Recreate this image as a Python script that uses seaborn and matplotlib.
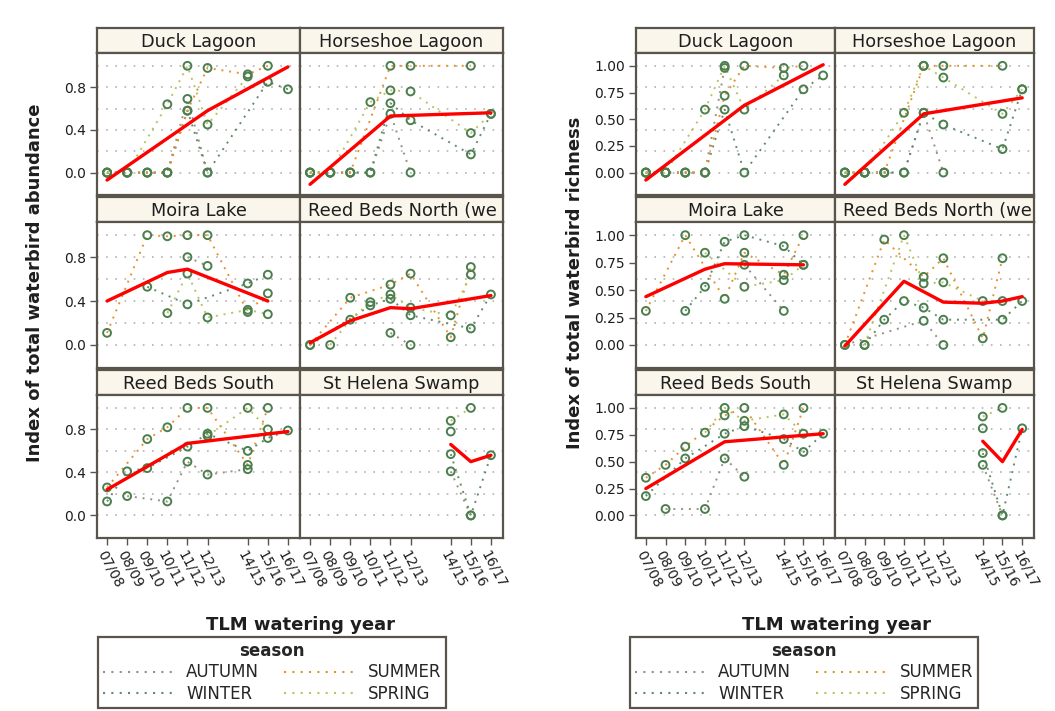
import numpy as np
import pandas as pd
import matplotlib
matplotlib.use("Agg")
import matplotlib.pyplot as plt
from matplotlib.lines import Line2D
import seaborn as sns

nan = np.nan

# ---------------- data ----------------
years = ["07/08", "08/09", "09/10", "10/11", "11/12", "12/13", "13/14", "14/15", "15/16", "16/17"]
tick_years = ["07/08", "08/09", "09/10", "10/11", "11/12", "12/13", "14/15", "15/16", "16/17"]
seasons = ["AUTUMN", "WINTER", "SUMMER", "SPRING"]
sites = ["Duck Lagoon", "Horseshoe Lagoon", "Moira Lake",
         "Reed Beds North (west)", "Reed Beds South", "St Helena Swamp"]
# facet strip labels as printed (long name truncated by the strip)
site_labels = ["Duck Lagoon", "Horseshoe Lagoon", "Moira Lake",
               "Reed Beds North (we", "Reed Beds South", "St Helena Swamp"]

# abundance index per site and season (one value per watering year, nan = no survey)
abund_duck = {"AUTUMN": [0, 0, 0, 0, 0.69, 0.0, nan, nan, nan, nan],
              "WINTER": [0, 0, 0, 0, 0.58, 0.0, nan, nan, 0.85, 0.78],
              "SUMMER": [0, 0, 0, 0, 0.58, 0.98, nan, 0.92, 1.0, nan],
              "SPRING": [0, 0, nan, 0.64, 1.0, 0.45, nan, 0.90, nan, nan]}
abund_horse = {"AUTUMN": [0, 0, 0, 0, 0.55, 0.0, nan, nan, nan, nan],
               "WINTER": [0, 0, 0, 0, 0.65, 0.49, nan, nan, 0.17, 0.55],
               "SUMMER": [0, 0, 0, nan, 1.0, 1.0, nan, nan, 1.0, nan],
               "SPRING": [0, 0, nan, 0.66, 0.77, 0.76, nan, nan, 0.37, 0.55]}
abund_moira = {"AUTUMN": [nan, nan, nan, nan, 0.80, 0.72, nan, nan, nan, nan],
               "WINTER": [nan, nan, 0.53, nan, 0.37, nan, nan, 0.56, 0.64, nan],
               "SUMMER": [0.11, nan, 1.0, 0.99, 1.0, 1.0, nan, 0.30, 0.47, nan],
               "SPRING": [nan, nan, nan, 0.29, 0.65, 0.25, nan, 0.32, 0.28, nan]}
abund_rbn = {"AUTUMN": [nan, nan, nan, nan, 0.11, 0.0, nan, nan, nan, nan],
             "WINTER": [0, nan, nan, 0.36, 0.42, 0.27, nan, nan, 0.15, 0.46],
             "SUMMER": [0, nan, 0.43, nan, 0.55, 0.65, nan, 0.07, 0.71, nan],
             "SPRING": [nan, 0, 0.23, 0.39, 0.46, 0.34, nan, 0.27, 0.64, nan]}
abund_rbs = {"AUTUMN": [nan, 0.18, nan, 0.13, 0.50, 0.38, nan, 0.43, nan, nan],
             "WINTER": [0.13, 0.41, 0.44, nan, 0.64, 0.76, nan, 0.60, 0.72, 0.79],
             "SUMMER": [0.26, nan, 0.71, 0.82, 1.0, 1.0, nan, 0.47, 1.0, nan],
             "SPRING": [nan, nan, nan, nan, nan, 0.74, nan, 1.0, 0.80, nan]}
abund_sth = {"AUTUMN": [nan, nan, nan, nan, nan, nan, nan, 0.41, 0.0, nan],
             "WINTER": [nan, nan, nan, nan, nan, nan, nan, 0.57, 0.0, 0.56],
             "SUMMER": [nan, nan, nan, nan, nan, nan, nan, 0.78, nan, nan],
             "SPRING": [nan, nan, nan, nan, nan, nan, nan, 0.88, 1.0, nan]}

# fitted abundance trend (red line vertices)
abund_fit_duck = [-0.07, nan, nan, nan, nan, 0.58, nan, nan, nan, 0.99]
abund_fit_horse = [-0.11, nan, nan, nan, 0.53, nan, nan, nan, nan, 0.56]
abund_fit_moira = [0.40, nan, nan, 0.66, 0.69, nan, nan, nan, 0.40, nan]
abund_fit_rbn = [0.02, nan, 0.22, nan, 0.34, 0.33, nan, nan, nan, 0.45]
abund_fit_rbs = [0.24, nan, nan, nan, 0.67, nan, nan, nan, nan, 0.78]
abund_fit_sth = [nan, nan, nan, nan, nan, nan, nan, 0.66, 0.50, 0.56]

# richness index per site and season
rich_duck = {"AUTUMN": [0, 0, 0, 0, 0.98, nan, nan, nan, nan, nan],
             "WINTER": [0, 0, 0, 0, 0.59, 0.0, nan, nan, 0.78, 0.91],
             "SUMMER": [0, 0, 0, 0, 0.72, 1.0, nan, 0.98, 1.0, nan],
             "SPRING": [0, 0, nan, 0.59, 1.0, 0.59, nan, 0.91, nan, nan]}
rich_horse = {"AUTUMN": [0, 0, 0, 0, 0.56, 0.0, nan, nan, nan, nan],
              "WINTER": [0, 0, 0, 0, 0.56, 0.45, nan, nan, 0.22, 0.78],
              "SUMMER": [0, 0, 0, nan, 1.0, 1.0, nan, nan, 1.0, nan],
              "SPRING": [0, 0, nan, 0.56, 1.0, 0.89, nan, nan, 0.55, 0.78]}
rich_moira = {"AUTUMN": [nan, nan, nan, nan, nan, 0.73, nan, 0.31, nan, nan],
              "WINTER": [nan, nan, 0.31, 0.53, 0.94, 1.0, nan, 0.90, 0.73, nan],
              "SUMMER": [0.31, nan, 1.0, nan, 0.42, 0.84, nan, 0.64, 1.0, nan],
              "SPRING": [nan, nan, nan, 0.84, nan, 0.53, nan, 0.59, 0.73, nan]}
rich_rbn = {"AUTUMN": [0, nan, nan, nan, 0.22, 0.0, nan, nan, nan, nan],
            "WINTER": [nan, 0, 0.23, 0.40, 0.34, 0.23, nan, nan, 0.23, 0.40],
            "SUMMER": [0, nan, 0.96, nan, 0.62, 0.79, nan, 0.06, 0.79, nan],
            "SPRING": [nan, 0, nan, 1.0, 0.56, 0.57, nan, 0.40, 0.40, nan]}
rich_rbs = {"AUTUMN": [nan, 0.06, nan, 0.06, 0.53, 0.36, nan, nan, nan, nan],
            "WINTER": [0.18, nan, 0.53, nan, 0.76, 0.83, nan, 0.71, 0.59, 0.76],
            "SUMMER": [0.35, 0.47, 0.64, nan, 0.93, 1.0, nan, 0.47, 1.0, nan],
            "SPRING": [nan, nan, nan, 0.77, 1.0, 0.88, nan, 0.94, 0.76, nan]}
rich_sth = {"AUTUMN": [nan, nan, nan, nan, nan, nan, nan, 0.47, 0.0, nan],
            "WINTER": [nan, nan, nan, nan, nan, nan, nan, 0.58, 0.0, 0.81],
            "SUMMER": [nan, nan, nan, nan, nan, nan, nan, 0.81, nan, nan],
            "SPRING": [nan, nan, nan, nan, nan, nan, nan, 0.92, 1.0, nan]}

rich_fit_duck = [-0.07, nan, nan, nan, nan, 0.63, nan, nan, nan, 1.01]
rich_fit_horse = [-0.11, nan, nan, nan, 0.55, nan, nan, nan, nan, 0.70]
rich_fit_moira = [0.44, nan, nan, 0.69, 0.74, nan, nan, nan, 0.73, nan]
rich_fit_rbn = [-0.01, nan, nan, 0.58, nan, 0.39, nan, 0.38, 0.40, 0.44]
rich_fit_rbs = [0.25, nan, nan, nan, 0.685, nan, nan, nan, nan, 0.76]
rich_fit_sth = [nan, nan, nan, nan, nan, nan, nan, 0.69, 0.50, 0.80]

abund_series = [abund_duck, abund_horse, abund_moira, abund_rbn, abund_rbs, abund_sth]
abund_fits = [abund_fit_duck, abund_fit_horse, abund_fit_moira, abund_fit_rbn, abund_fit_rbs, abund_fit_sth]
rich_series = [rich_duck, rich_horse, rich_moira, rich_rbn, rich_rbs, rich_sth]
rich_fits = [rich_fit_duck, rich_fit_horse, rich_fit_moira, rich_fit_rbn, rich_fit_rbs, rich_fit_sth]

# ---------------- tidy tables ----------------
rows, fit_rows = [], []
for measure, series, fits in [("abund", abund_series, abund_fits), ("rich", rich_series, rich_fits)]:
    for site, sdict, fit in zip(sites, series, fits):
        for season in seasons:
            for i, v in enumerate(sdict[season]):
                rows.append((measure, site, season, i, years[i], v))
        for i, v in enumerate(fit):
            fit_rows.append((measure, site, i, v))
df = pd.DataFrame(rows, columns=["measure", "site", "season", "x", "year", "value"]).dropna()
fit_df = pd.DataFrame(fit_rows, columns=["measure", "site", "x", "value"]).dropna()

# ---------------- style ----------------
sns.set_theme(style="white")
plt.rcParams["font.family"] = ["DejaVu Sans"]

season_colors = {"AUTUMN": "#9a8f80", "WINTER": "#5f8d6b", "SUMMER": "#e8912b", "SPRING": "#b9c45a"}
frame_col = "#59554d"
header_fill = "#faf6eb"
marker_col = "#4b7f4e"
grid_col = "#b3b3b3"
dot_ls = (0, (1, 3))

W, H = 1055, 711
fig = plt.figure(figsize=(W / 100, H / 100), dpi=100)
fig.patch.set_facecolor("white")


def rect(x0, y0, x1, y1):
    return [x0 / W, 1 - y1 / H, (x1 - x0) / W, (y1 - y0) / H]


panels = {
    "abund": dict(x0=97, colw=203, yticks=[0, 0.4, 0.8], fmt="{:.1f}",
                  ylabel="Index of total waterbird abundance", ylab_x=35, xlab_x=300,
                  leg_x=98),
    "rich": dict(x0=636, colw=199, yticks=[0, 0.25, 0.5, 0.75, 1.0], fmt="{:.2f}",
                 ylabel="Index of total waterbird richness", ylab_x=575, xlab_x=836,
                 leg_x=630),
}
header_tops = [28, 197, 370]
plot_bottoms = [195, 368, 538]
header_h = 25
grid_vals = [0.0, 0.2, 0.4, 0.6, 0.8, 1.0]
tick_pos = [years.index(t) for t in tick_years]

for measure, cfg in panels.items():
    for k, (site, label) in enumerate(zip(sites, site_labels)):
        r, c = divmod(k, 2)
        xa = cfg["x0"] + c * cfg["colw"]
        xb = xa + cfg["colw"]
        # header strip
        hax = fig.add_axes(rect(xa, header_tops[r], xb, header_tops[r] + header_h))
        hax.set_facecolor(header_fill)
        hax.set_xticks([]); hax.set_yticks([])
        for sp in hax.spines.values():
            sp.set_color(frame_col); sp.set_linewidth(1.6)
        if label != site:
            hax.text(0.04, 0.45, label, ha="left", va="center", fontsize=12.9,
                     color="#1e1e1e", transform=hax.transAxes)
        else:
            hax.text(0.5, 0.45, label, ha="center", va="center", fontsize=12.7,
                     color="#1e1e1e", transform=hax.transAxes)
        # plot area
        ax = fig.add_axes(rect(xa, header_tops[r] + header_h, xb, plot_bottoms[r]))
        ax.set_facecolor("white")
        for g in grid_vals:
            ax.axhline(g, color=grid_col, lw=1.2, ls=(0, (1, 4.5)), zorder=0)
        sub = df[(df.measure == measure) & (df.site == site)]
        sns.lineplot(data=sub, x="x", y="value", hue="season", hue_order=seasons,
                     palette=season_colors, estimator=None, sort=True, legend=False,
                     linewidth=1.4, linestyle=dot_ls, ax=ax, zorder=2)
        sns.scatterplot(data=sub, x="x", y="value", marker="o", s=32,
                        facecolors="none", edgecolor=marker_col, linewidth=1.4,
                        legend=False, ax=ax, zorder=3)
        fsub = fit_df[(fit_df.measure == measure) & (fit_df.site == site)]
        sns.lineplot(data=fsub, x="x", y="value", color="#ff0000", linewidth=2.4,
                     estimator=None, sort=True, legend=False, ax=ax, zorder=4)
        ax.set_xlim(-0.5, 9.6)
        ax.set_ylim(-0.21, 1.12)
        ax.set_xlabel(""); ax.set_ylabel("")
        for sp in ax.spines.values():
            sp.set_color(frame_col); sp.set_linewidth(1.6)
        ax.set_xticks(tick_pos)
        ax.set_yticks(cfg["yticks"])
        ax.tick_params(axis="both", direction="out", length=5, width=1.0,
                       color=frame_col, labelsize=10, labelcolor="#1e1e1e")
        if c == 0:
            ax.set_yticklabels([cfg["fmt"].format(v) for v in cfg["yticks"]])
            ax.tick_params(axis="y", left=True, labelleft=True, pad=3)
        else:
            ax.tick_params(axis="y", left=False, labelleft=False)
        if r == 2:
            ax.set_xticklabels(tick_years, rotation=-62, ha="left", va="top",
                               rotation_mode="anchor")
            ax.tick_params(axis="x", bottom=True, labelbottom=True, pad=2)
        else:
            ax.tick_params(axis="x", bottom=False, labelbottom=False)

    fig.text(cfg["ylab_x"] / W, 1 - 283 / H, cfg["ylabel"], rotation=90,
             ha="center", va="center", fontsize=13, fontweight="bold", color="#1e1e1e")
    fig.text(cfg["xlab_x"] / W, 1 - 625 / H, "TLM watering year",
             ha="center", va="center", fontsize=13, fontweight="bold", color="#1e1e1e")

    handles = [Line2D([], [], color=season_colors[s], lw=1.5, ls=dot_ls) for s in seasons]
    leg = fig.legend(handles, seasons, loc="upper left",
                     bbox_to_anchor=(cfg["leg_x"] / W, 1 - 637 / H),
                     borderaxespad=0, ncol=2, title="season", fontsize=12,
                     handlelength=4.4, handletextpad=0.6, columnspacing=1.5,
                     labelspacing=0.2, borderpad=0.3, frameon=True, fancybox=False,
                     edgecolor=frame_col, framealpha=1)
    leg.get_title().set_fontweight("bold")
    leg.get_title().set_fontsize(12)
    leg.get_frame().set_linewidth(1.6)

fig.savefig("out.png", dpi=100, facecolor="white")
